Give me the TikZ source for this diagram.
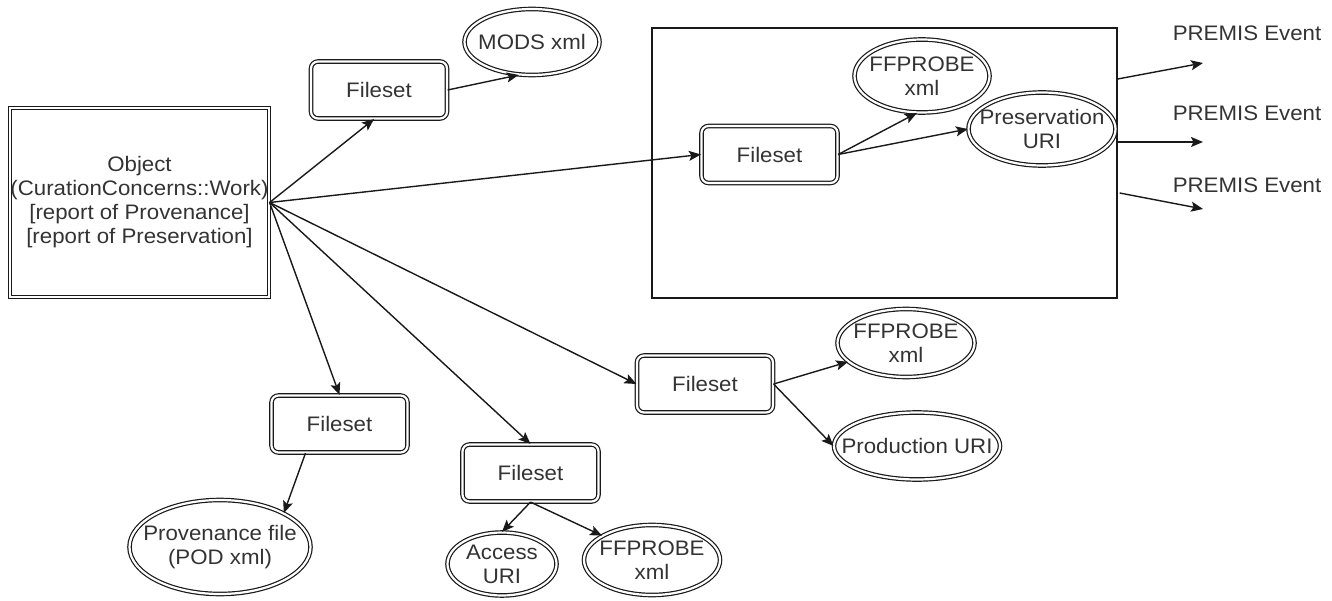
\documentclass[tikz,border=0pt]{standalone}
\usepackage{fontspec}
\setmainfont[FakeStretch=1.06]{Liberation Sans}
\usetikzlibrary{arrows.meta,shapes.geometric}
\begin{document}
\begin{tikzpicture}[x=1pt,y=-1pt,
  every node/.style={font=\fontsize{21}{24}\selectfont, text=black!80, inner sep=0pt, align=center},
  dbl/.style={draw=black!90, line width=1.2pt, double=white, double distance=2.2pt},
  objbox/.style={dbl, rectangle, minimum width=259pt, minimum height=189pt},
  fsbox/.style={dbl, rectangle, rounded corners=7pt, minimum width=136pt, minimum height=57pt},
  oval/.style={dbl, ellipse},
  panelbox/.style={draw=black!90, line width=1.3pt, rectangle, minimum width=465pt, minimum height=270pt},
  arr/.style={draw=black!90, line width=1.4pt, -{Stealth[length=12pt,width=10pt,inset=2.5pt]}}
]
\useasboundingbox (0,0) rectangle (1332,601);

% container panel
\node[panelbox] (panel) at (884.5,163) {};

% main object
\node[objbox] (obj) at (139.5,202.5) {Object\\(CurationConcerns::Work)\\[0pt][report of Provenance]\\[0pt][report of Preservation]};

% filesets
\node[fsbox] (fs1) at (379,90) {Fileset};
\node[fsbox] (fs2) at (769.5,154.5) {Fileset};
\node[fsbox] (fs3) at (705,384) {Fileset};
\node[fsbox] (fs4) at (339.5,424) {Fileset};
\node[fsbox] (fs5) at (530.5,473) {Fileset};

% ovals
\node[oval, minimum width=135pt, minimum height=66pt, label={center:MODS xml}] (mods) at (532,42) {};
\node[oval, minimum width=135pt, minimum height=73pt, label={center:FFPROBE\\xml}] (ff1) at (922,76) {};
\node[oval, minimum width=147pt, minimum height=73pt, label={center:Preservation\\URI}] (pres) at (1042,129) {};
\node[oval, minimum width=137pt, minimum height=68pt, label={center:FFPROBE\\xml}] (ff2) at (906,343) {};
\node[oval, minimum width=166pt, minimum height=67pt, label={center:Production URI}] (prod) at (917,446) {};
\node[oval, minimum width=181pt, minimum height=94pt, label={center:Provenance file\\(POD xml)}] (prov) at (220,547) {};
\node[oval, minimum width=109pt, minimum height=63pt, label={center:Access\\URI}] (acc) at (502,564) {};
\node[oval, minimum width=136pt, minimum height=70pt, label={center:FFPROBE\\xml}] (ff3) at (652,560) {};

% PREMIS labels
\node (pe1) at (1247,33) {PREMIS Event};
\node (pe2) at (1247,113) {PREMIS Event};
\node (pe3) at (1247,185) {PREMIS Event};
\coordinate (e1) at (1203,63);
\coordinate (e2) at (1203,142);
\coordinate (e3) at (1203,209);

% connectors from object
\draw[arr] (obj.east) -- ([xshift=-5pt]fs1.south);
\draw[arr] (obj.east) -- (fs2.west);
\draw[arr] (obj.east) -- (fs3.west);
\draw[arr] (obj.east) -- (fs4.north);
\draw[arr] (obj.east) -- (fs5.north);

% fileset children
\draw[arr] (fs1.east) -- (mods.248);
\draw[arr] (fs2.east) -- (ff1.262);
\draw[arr] (fs2.east) -- (pres.west);
\draw[arr] (fs3.east) -- (ff2.198);
\draw[arr] (fs3.east) -- (prod.west);
\draw[arr] ([xshift=-34pt]fs4.south) -- (prov.28);
\draw[arr] (fs5.south) -- (acc.north);
\draw[arr] (fs5.south) -- (ff3.154);

% PREMIS event arrows
\draw[arr] ([yshift=84pt]panel.east) -- (e1);
\draw[arr] ([yshift=21pt]panel.east) -- (e2);
\draw[arr] ([xshift=2pt,yshift=-30pt]panel.east) -- (e3);
\end{tikzpicture}
\end{document}
